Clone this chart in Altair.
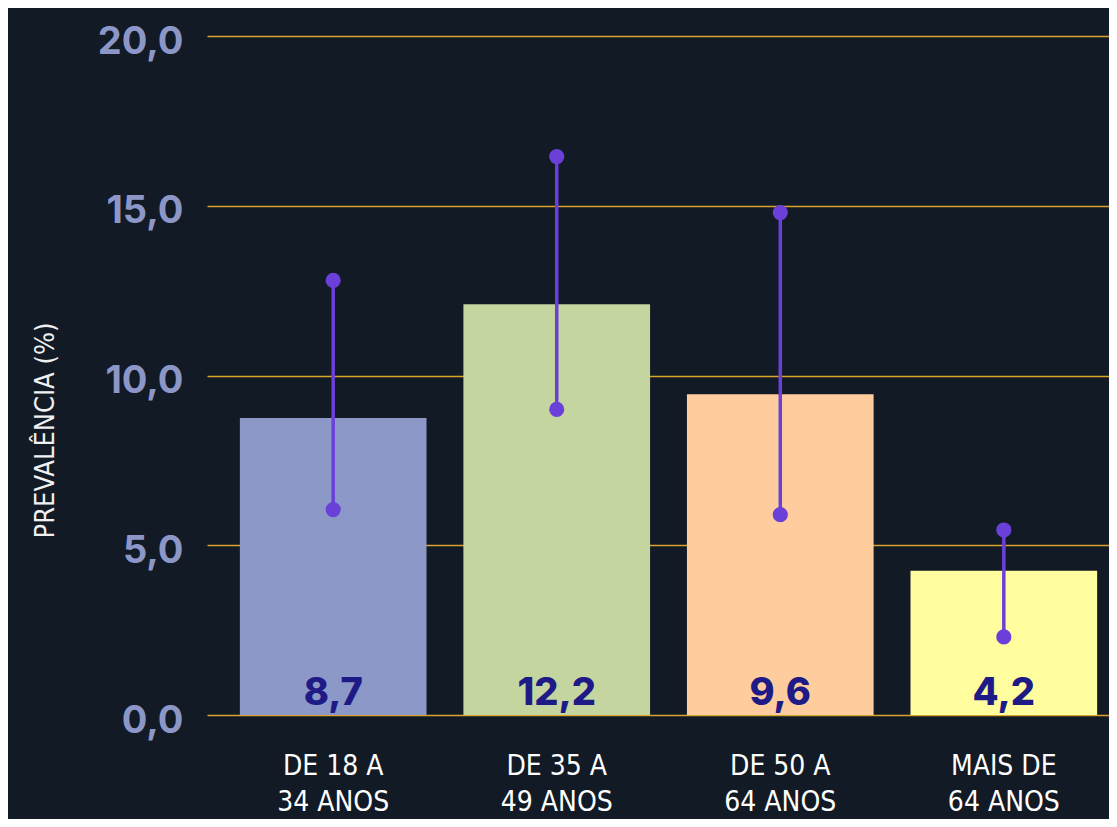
import altair as alt
import pandas as pd

categories = ["DE 18 A|34 ANOS", "DE 35 A|49 ANOS", "DE 50 A|64 ANOS", "MAIS DE|64 ANOS"]
values = [8.75, 12.1, 9.45, 4.25]
labels = ["8,7", "12,2", "9,6", "4,2"]
lower = [6.05, 9.0, 5.9, 2.3]
upper = [12.8, 16.45, 14.8, 5.45]
colors = ["#8c98c8", "#c5d5a0", "#ffcc9e", "#fffd9e"]

df = pd.DataFrame({
    "cat": categories,
    "value": values,
    "label": labels,
    "lo": lower,
    "hi": upper,
    "color": colors,
})

COND = "'DejaVu Sans Condensed', Roboto, sans-serif"

xscale = alt.Scale(domain=categories, paddingInner=0.165, paddingOuter=0.1, align=0.735)
x = alt.X("cat:N", scale=xscale, sort=categories, title=None,
          axis=alt.Axis(labelExpr="split(datum.label, '|')", labelAngle=0,
                        labelFont=COND, labelFontSize=28,
                        labelColor="#ffffff", labelLineHeight=36, labelPadding=37,
                        domain=False, ticks=False, grid=False, labelBaseline="top"))

yscale = alt.Scale(domain=[0, 20], nice=False)
y = alt.Y("value:Q", scale=yscale, title="PREVALÊNCIA (%)",
          axis=alt.Axis(values=[0, 5, 10, 15, 20],
                        labelExpr="replace(format(datum.value, '.1f'), '.', ',')",
                        labelFont="Inter", labelFontSize=38, labelFontWeight="bold",
                        labelColor="#8c97c8", labelPadding=24, labelBaseline="alphabetic",
                        labelOffset=17,
                        domain=False, ticks=False, grid=True, gridColor="#d9a42c",
                        gridWidth=1.5, titleFont=COND, titleFontSize=27,
                        titleFontWeight="normal", titleColor="#f0f0f0", titleAngle=270,
                        titleX=-162, titleY=394, titleAlign="center", titleBaseline="middle"))

bars = alt.Chart(df).mark_bar().encode(
    x=x, y=y, color=alt.Color("color:N", scale=None)
)

text = alt.Chart(df).mark_text(font="Inter", fontSize=38, fontWeight=800, color="#1e1a86",
                               baseline="alphabetic", dy=-10).encode(
    x=alt.X("cat:N", scale=xscale, sort=categories),
    y=alt.datum(0),
    text="label:N",
)

rules = alt.Chart(df).mark_rule(color="#6b40d9", strokeWidth=3.5).encode(
    x=alt.X("cat:N", scale=xscale, sort=categories),
    y=alt.Y("lo:Q", scale=yscale),
    y2="hi:Q",
)

pts_lo = alt.Chart(df).mark_circle(color="#6b40d9", opacity=1, size=230).encode(
    x=alt.X("cat:N", scale=xscale, sort=categories),
    y=alt.Y("lo:Q", scale=yscale),
)
pts_hi = alt.Chart(df).mark_circle(color="#6b40d9", opacity=1, size=230).encode(
    x=alt.X("cat:N", scale=xscale, sort=categories),
    y=alt.Y("hi:Q", scale=yscale),
)

chart = alt.layer(bars, text, rules, pts_lo, pts_hi).properties(
    width=902, height=679,
    autosize=alt.AutoSizeParams(type="none"),
    padding={"left": 199, "top": 28, "right": 0, "bottom": 104},
    background="#121a25",
).configure_view(stroke=None)

chart.save("out.html", embed_options={"renderer": "svg", "actions": False})
